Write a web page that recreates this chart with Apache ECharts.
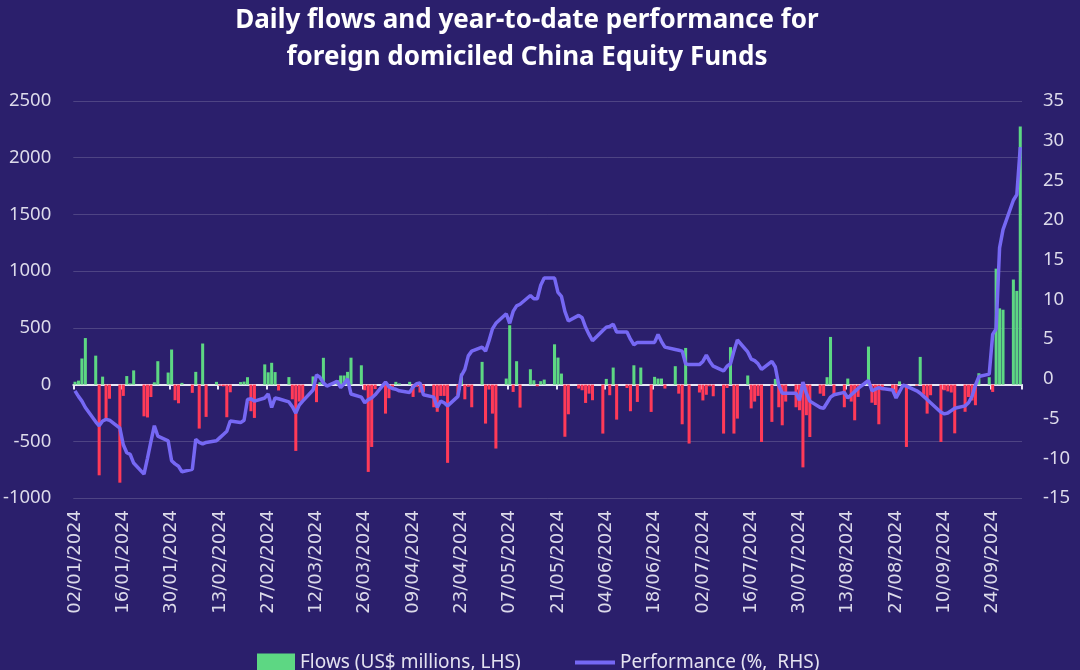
<!DOCTYPE html>
<html>
<head>
<meta charset="utf-8">
<script src="https://cdn.jsdelivr.net/npm/echarts@6/dist/echarts.min.js"></script>
<style>
html,body{margin:0;padding:0;background:#2b1f6c;}
#chart{width:1080px;height:670px;}
</style>
</head>
<body>
<div id="chart"></div>
<script>
// Weekday values (trading days), by month. Flows in US$ millions (LHS), performance in % YTD (RHS)
const flowsJan = [25, 35, 230, 410, 255, -800, 70, -300, -125, -865, -100, 75, 10, 125, -280, -290, -110, 20, 206, 106, 309, -138];
const perfJan  = [-1.5, -2.2, -2.8, -3.6, -5.4, -5.9, -5.3, -5.1, -5.2, -6.2, -8.3, -9.3, -9.5, -10.6, -12.0, -10.0, -7.9, -5.9, -7.2, -7.8, -10.3, -10.7];
const flowsFeb = [-165, 15, -73, 112, -388, 362, -285, 24, -10, -15, -288, -68, 22, 26, 65, -235, -294, 178, 108, 192, 110];
const perfFeb  = [-11.0, -11.7, -11.4, -7.6, -8.0, -8.2, -8.0, -7.8, -7.4, -7.0, -6.6, -5.3, -5.5, -5.2, -2.6, -2.5, -2.8, -2.4, -1.9, -3.6, -2.4];
const flowsMar = [-52, 66, -130, -585, -150, -140, 72, -155, 20, 236, -15, 40, 80, 80, 112, 237, 170, -50, -770, -550, -40];
const perfMar  = [-2.5, -2.9, -3.5, -4.3, -3.3, -2.8, -1.4, 0.5, 0.2, -0.5, -0.9, -0.3, -1.1, -0.6, 0.0, -1.9, -2.3, -3.0, -2.6, -2.4, -2.0];
const flowsApr = [-256, -120, -30, 24, 10, 24, -109, -20, -70, -65, -200, -240, -100, -100, -690, -94, 97, -130, -20, -200, 200, -344];
const perfApr  = [-0.4, -1.0, -1.2, -1.3, -1.5, -1.7, -1.0, -0.6, -0.5, -2.0, -2.3, -3.6, -2.8, -3.0, -3.4, -2.2, 0.4, 1.2, 2.9, 3.5, 4.0, 3.5];
const flowsMay = [-44, -256, -564, 53, 523, -65, 206, -203, 135, 38, -15, 30, 44, 355, 238, 97, -460, -262, -35, -50, -162, -80, -138];
const perfMay  = [4.8, 6.3, 7.0, 8.2, 7.0, 8.5, 9.2, 9.4, 10.5, 10.1, 10.1, 11.8, 12.7, 12.7, 10.9, 10.4, 8.5, 7.3, 8.0, 7.7, 6.5, 5.6, 4.8];
const flowsJun = [-432, 50, -94, 150, -309, -30, -235, 170, -153, 150, -241, 68, 53, 53, -35, 162, -80, -350, 323, -520];
const perfJun  = [6.1, 6.5, 6.6, 6.9, 5.9, 5.9, 5.0, 4.3, 4.6, 4.6, 4.6, 4.6, 5.6, 4.7, 4.0, 3.7, 3.6, 3.5, 1.9, 1.8];
const flowsJul = [-70, -140, -90, -15, -103, -432, -30, 330, -432, -300, 80, -210, -150, -100, -506, -329, 50, -200, -359, -150, -200, -226, -730];
const perfJul  = [1.8, 2.2, 3.0, 2.2, 1.6, 1.0, 1.6, 1.9, 3.5, 4.9, 3.4, 2.5, 2.3, 1.9, 1.2, 2.2, 1.5, -0.8, -1.8, -1.8, -1.8, -2.7, -0.4];
const flowsAug = [-270, -462, -80, -100, 65, 420, -85, -200, 53, -150, -315, -109, 335, -160, -180, -350, -50, -50, -80, 28, -20, -550];
const perfAug  = [-1.8, -2.8, -3.6, -3.7, -3.0, -2.3, -2.0, -1.7, -2.4, -2.0, -1.6, -1.2, -0.2, -1.5, -1.3, -1.1, -1.2, -1.4, -2.4, -1.6, -0.8, -0.9];
const flowsSep = [-10, 244, -90, -256, -94, -506, -50, -60, -70, -430, -240, -110, -140, -182, 100, 65, -65, 1022, 672, 660, 926];
const perfSep  = [-1.5, -1.8, -2.2, -2.6, -3.0, -4.2, -4.4, -4.3, -4.0, -3.7, -3.4, -3.0, -2.2, -0.8, 0.3, 0.6, 5.6, 6.3, 16.5, 18.8, 22.5];
const flowsOct = [826, 2276];
const perfOct  = [23.2, 29.2];

const startDate = '2024-01-02';
const endDate = '2024-10-02';
const leftTicks = {min: -1000, max: 2500, interval: 500};
const rightTicks = {min: -15, max: 35, interval: 5};
const flowsName = 'Flows (US$ millions, LHS)';
const perfName = 'Performance (%,  RHS)';

const flows = [].concat(flowsJan, flowsFeb, flowsMar, flowsApr, flowsMay, flowsJun, flowsJul, flowsAug, flowsSep, flowsOct);
const perf = [].concat(perfJan, perfFeb, perfMar, perfApr, perfMay, perfJun, perfJul, perfAug, perfSep, perfOct);

const GREEN = '#5dd783', RED = '#ff3a58', LINE = '#7668f4';

// Calendar-day category axis; weekends carry no value
const cats = [], flowData = [], perfData = [];
const pad = n => (n < 10 ? '0' : '') + n;
let k = 0;
for (let t = Date.parse(startDate + 'T00:00:00Z'); t <= Date.parse(endDate + 'T00:00:00Z'); t += 86400000) {
  const d = new Date(t);
  const dow = d.getUTCDay();
  cats.push(pad(d.getUTCDate()) + '/' + pad(d.getUTCMonth() + 1) + '/' + d.getUTCFullYear());
  if (dow === 0 || dow === 6) { flowData.push(null); perfData.push(null); }
  else {
    const v = flows[k];
    flowData.push(v < 0 ? {value: v, itemStyle: {color: RED}} : v);
    perfData.push(perf[k]);
    k++;
  }
}

const chart = echarts.init(document.getElementById('chart'), null, {renderer: 'canvas'});
const labelColor = '#dcdaea';
const legendText = {color: '#e4e2f0', fontFamily: 'Noto Sans', fontSize: 19};
chart.setOption({
  backgroundColor: '#2b1f6c',
  animation: false,
  title: {
    text: 'Daily flows and year-to-date performance for\nforeign domiciled China Equity Funds',
    left: 522, top: -3, textAlign: 'center',
    textStyle: {color: '#ffffff', fontFamily: 'Noto Sans', fontWeight: 'bold', fontSize: 26, lineHeight: 37}
  },
  legend: [{
    top: 648, left: 252, itemWidth: 38, itemHeight: 18, itemGap: 6,
    textStyle: legendText,
    data: [{name: flowsName, icon: 'rect'}]
  }, {
    top: 648, left: 570, itemWidth: 40, itemHeight: 4, itemGap: 6,
    textStyle: legendText,
    data: [{name: perfName, icon: 'rect'}]
  }],
  grid: {left: 72, right: 58, top: 101, bottom: 172},
  xAxis: [{
    type: 'category', data: cats, position: 'bottom',
    axisLine: {show: false, onZero: false}, axisTick: {show: false},
    axisLabel: {interval: 13, rotate: 90, color: labelColor, fontFamily: 'DejaVu Sans', fontSize: 18, margin: 12}
  }, {
    type: 'category', data: cats, position: 'bottom',
    axisLine: {show: true, onZero: true, onZeroAxisIndex: 0, lineStyle: {color: '#e8e6f4', width: 2}},
    axisTick: {show: true, interval: 13, length: 5, lineStyle: {color: '#e8e6f4', width: 2}},
    axisLabel: {show: false}
  }],
  yAxis: [{
    type: 'value', min: leftTicks.min, max: leftTicks.max, interval: leftTicks.interval,
    axisLine: {show: false}, axisTick: {show: false},
    axisLabel: {color: labelColor, fontFamily: 'Noto Sans', fontSize: 18.5, margin: 22, formatter: v => String(v)},
    splitLine: {lineStyle: {color: 'rgba(255,255,255,0.17)', width: 1}}
  }, {
    type: 'value', min: rightTicks.min, max: rightTicks.max, interval: rightTicks.interval,
    axisLine: {show: false}, axisTick: {show: false}, splitLine: {show: false},
    axisLabel: {color: labelColor, fontFamily: 'Noto Sans', fontSize: 18.5, margin: 21, formatter: v => String(v)}
  }],
  series: [{
    name: flowsName, type: 'bar', xAxisIndex: 0, yAxisIndex: 0,
    data: flowData, barCategoryGap: '12%', itemStyle: {color: GREEN}, z: 2
  }, {
    name: perfName, type: 'line', xAxisIndex: 0, yAxisIndex: 1,
    data: perfData, connectNulls: true, symbol: 'none', smooth: false,
    lineStyle: {color: LINE, width: 3.5}, itemStyle: {color: LINE}, z: 5
  }]
});
</script>
</body>
</html>
